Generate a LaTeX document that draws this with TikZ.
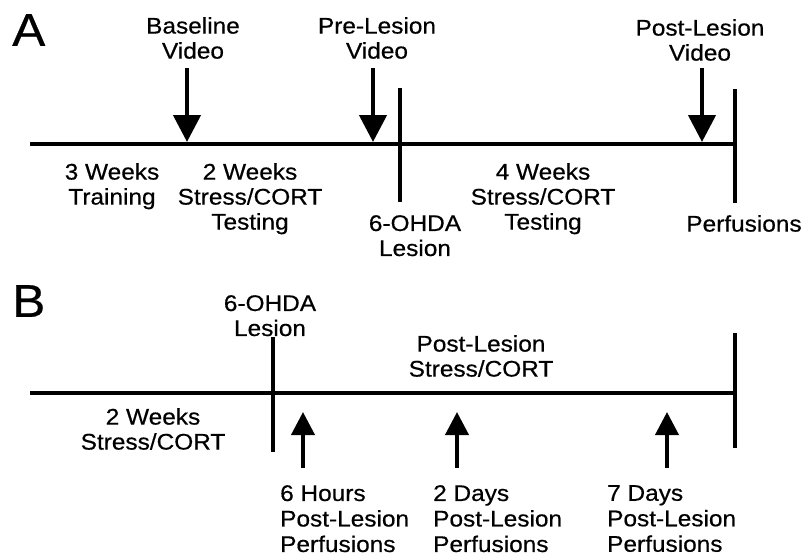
\documentclass[tikz,border=0pt]{standalone}
\usepackage{fontspec}
\setmainfont[FakeStretch=1.08,FakeBold=0.5]{Liberation Sans}
\usetikzlibrary{arrows.meta}
\begin{document}
\begin{tikzpicture}[x=1pt,y=-1pt,
  lbl/.style={font=\fontsize{22.6}{25}\selectfont, align=center, inner sep=0pt, anchor=north},
  lbll/.style={font=\fontsize{22.6}{25.5}\selectfont, align=left, inner sep=0pt, anchor=north west},
  big/.style={font=\fontsize{46}{50}\selectfont, inner sep=0pt, anchor=north west},
  tl/.style={line width=4pt},
  darr/.style={line width=4.5pt, -{Triangle[width=27pt,length=27pt]}},
  uarr/.style={line width=4pt, -{Triangle[width=23pt,length=23pt]}}]
\useasboundingbox (0,0) rectangle (809,558);
% ---------- Panel A ----------
\node[big] (A) at (12,14) {A};
\coordinate (a0) at (30,144);
\coordinate (a1) at (735,144);
\coordinate (lesAt) at (400,88);
\coordinate (lesAb) at (400,202);
\coordinate (endAt) at (735,89);
\coordinate (endAb) at (735,203);
\draw[tl] (a0) -- (a1);
\draw[tl] (lesAt) -- (lesAb);
\draw[tl] (endAt) -- (endAb);

\node[lbl] (bv) at (193,17) {Baseline\\Video};
\node[lbl] (pv) at (377,17) {Pre-Lesion\\Video};
\node[lbl] (qv) at (700,19) {Post-Lesion\\Video};
\coordinate (bvs) at (187,68);
\coordinate (pvs) at (373,68);
\coordinate (qvs) at (702,68);
\coordinate (bvt) at (187,142);
\coordinate (pvt) at (373,142);
\coordinate (qvt) at (702,142);
\draw[darr] (bvs) -- (bvt);
\draw[darr] (pvs) -- (pvt);
\draw[darr] (qvs) -- (qvt);

\node[lbl] (tw) at (112,163) {3 Weeks\\Training};
\node[lbl] (sc1) at (250,163) {2 Weeks\\Stress/CORT\\Testing};
\node[lbl] (les1) at (415,215) {6-OHDA\\Lesion};
\node[lbl] (sc2) at (543,163) {4 Weeks\\Stress/CORT\\Testing};
\node[lbl] (perf) at (744,215) {Perfusions};

% ---------- Panel B ----------
\node[big] (B) at (12,285) {B};
\coordinate (b0) at (30,393);
\coordinate (b1) at (735,393);
\coordinate (lesBt) at (273,337);
\coordinate (lesBb) at (273,452);
\coordinate (endBt) at (735,333);
\coordinate (endBb) at (735,448);
\draw[tl] (b0) -- (b1);
\draw[tl] (lesBt) -- (lesBb);
\draw[tl] (endBt) -- (endBb);

\node[lbl] (les2) at (270,295) {6-OHDA\\Lesion};
\node[lbl] (plsc) at (481,335) {Post-Lesion\\Stress/CORT};
\node[lbl] (sc3) at (153,408) {2 Weeks\\Stress/CORT};

\node[lbll] (h6) at (280,485) {6 Hours\\Post-Lesion\\Perfusions};
\node[lbll] (d2) at (433,485) {2 Days\\Post-Lesion\\Perfusions};
\node[lbll] (d7) at (607,485) {7 Days\\Post-Lesion\\Perfusions};
\coordinate (h6s) at (303,468);
\coordinate (d2s) at (457,468);
\coordinate (d7s) at (667,468);
\coordinate (h6t) at (303,412);
\coordinate (d2t) at (457,412);
\coordinate (d7t) at (667,412);
\draw[uarr] (h6s) -- (h6t);
\draw[uarr] (d2s) -- (d2t);
\draw[uarr] (d7s) -- (d7t);
\end{tikzpicture}
\end{document}
